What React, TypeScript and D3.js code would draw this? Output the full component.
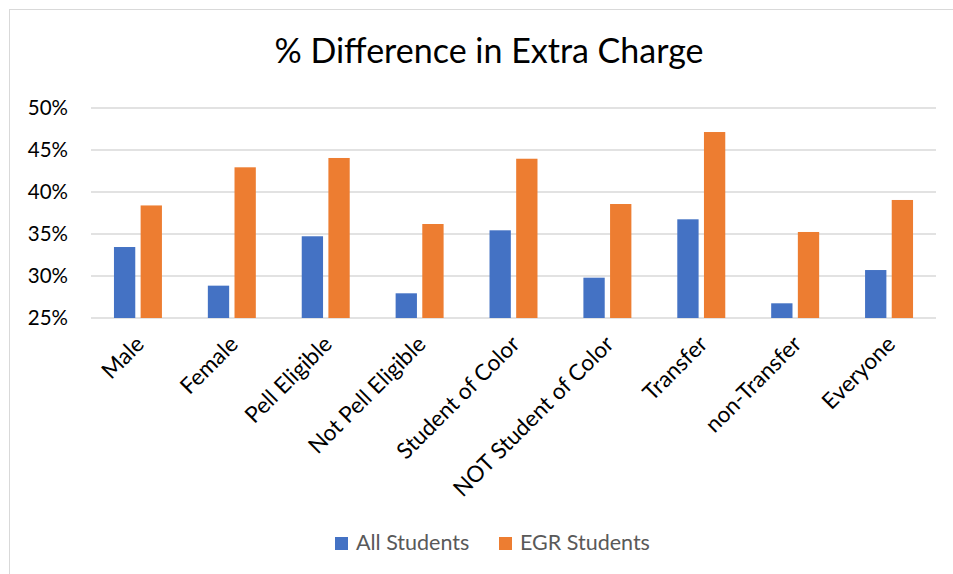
import React from "react";
import * as d3 from "d3";

const categories = [
  "Male",
  "Female",
  "Pell Eligible",
  "Not Pell Eligible",
  "Student of Color",
  "NOT Student of Color",
  "Transfer",
  "non-Transfer",
  "Everyone",
];
const allStudents = [0.3345, 0.2885, 0.3473, 0.2794, 0.3544, 0.298, 0.3675, 0.2675, 0.3071];
const egrStudents = [0.384, 0.4294, 0.4405, 0.3619, 0.4396, 0.3857, 0.4714, 0.3524, 0.3905];
const yTicks = [0.25, 0.3, 0.35, 0.4, 0.45, 0.5];
const seriesNames = ["All Students", "EGR Students"];
const seriesColors = ["#4472C4", "#ED7D31"];

const W = 953;
const H = 574;
const FONT = "Lato, 'Open Sans', sans-serif";

export default function App() {
  const x = d3.scaleBand<string>().domain(categories).range([91, 936]).padding(0);
  const y = d3.scaleLinear().domain([0.25, 0.5]).range([318, 108]);
  const step = x.step();
  const barW = step * 0.227;
  const gap = step * 0.057;
  const fmt = d3.format(".0%");

  return (
    <svg
      width={W}
      height={H}
      style={{ position: "absolute", left: 0, top: 0, background: "#fff" }}
      fontFamily={FONT}
    >
      <rect x={9.5} y={9.5} width={1000} height={1000} fill="#fff" stroke="#d9d9d9" strokeWidth={1} />
      <text x={489} y={63} textAnchor="middle" fontSize={34} fill="#000">
        % Difference in Extra Charge
      </text>

      {yTicks.map((t) => (
        <g key={t}>
          <line x1={91} x2={936} y1={y(t)} y2={y(t)} stroke="#d9d9d9" strokeWidth={1.5} />
          <text x={68} y={y(t)} dy="0.35em" textAnchor="end" fontSize={20.5} fill="#000">
            {fmt(t)}
          </text>
        </g>
      ))}

      {categories.map((c, i) => {
        const cx = (x(c) as number) + step / 2;
        return (
          <g key={c}>
            <rect
              x={cx - gap / 2 - barW}
              y={y(allStudents[i])}
              width={barW}
              height={y(0.25) - y(allStudents[i])}
              fill={seriesColors[0]}
            />
            <rect
              x={cx + gap / 2}
              y={y(egrStudents[i])}
              width={barW}
              height={y(0.25) - y(egrStudents[i])}
              fill={seriesColors[1]}
            />
            <text
              transform={`translate(${cx + 2},${340}) rotate(-45)`}
              textAnchor="end"
              dy="0.35em"
              fontSize={22.5}
              fill="#000"
            >
              {c}
            </text>
          </g>
        );
      })}

      {seriesNames.map((n, i) => {
        const lx = [335, 499][i];
        return (
          <g key={n}>
            <rect x={lx} y={537} width={13} height={13} fill={seriesColors[i]} />
            <text x={lx + 21} y={549.5} fontSize={21.5} fill="#595959">
              {n}
            </text>
          </g>
        );
      })}
    </svg>
  );
}
